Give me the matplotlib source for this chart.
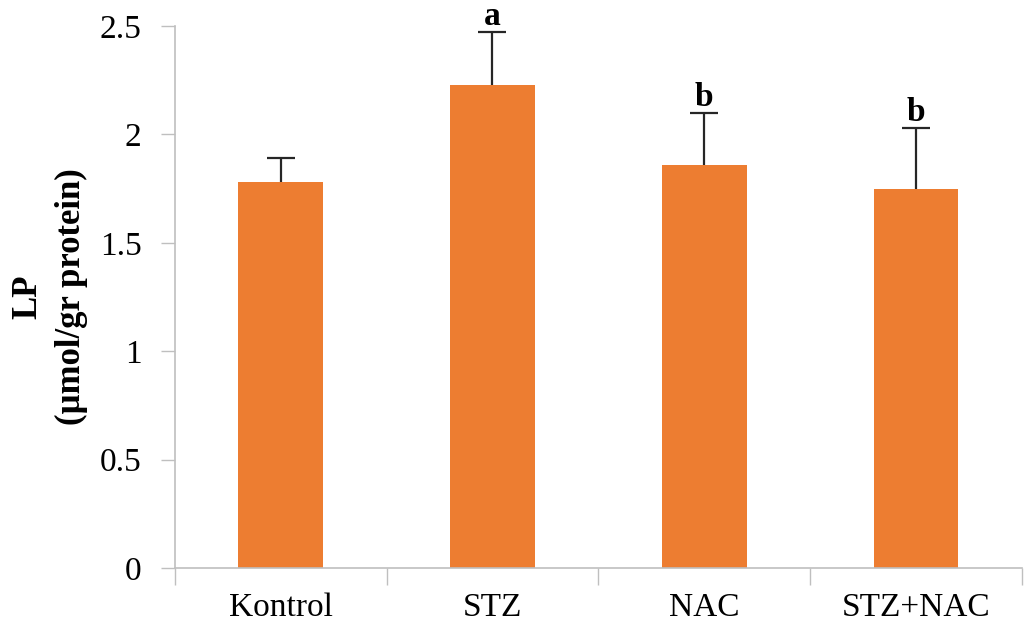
import matplotlib.pyplot as plt
import numpy as np

# Lipid peroxidation per group
groups = ["Kontrol", "STZ", "NAC", "STZ+NAC"]
lp_mean = [1.78, 2.23, 1.86, 1.75]
lp_sd = [0.11, 0.24, 0.24, 0.28]
sig_letters = ["", "a", "b", "b"]
yticks = [0, 0.5, 1, 1.5, 2, 2.5]
ytick_labels = ["0", "0.5", "1", "1.5", "2", "2.5"]

plt.rcParams["font.family"] = ["Liberation Serif", "DejaVu Serif"]

fig = plt.figure(figsize=(10.28, 6.32), dpi=100)
ax = fig.add_axes([0.170, 0.1013, 0.824, 0.8576])

x = np.arange(len(groups))
ax.bar(x, lp_mean, width=0.4, color="#ED7D31", zorder=2)
eb = ax.errorbar(x, lp_mean, yerr=[np.zeros(len(lp_sd)), lp_sd], fmt="none",
                 ecolor="#262626", elinewidth=1.6, capsize=10, capthick=1.6, zorder=3)
# only the upper whisker gets a cap
eb[1][0].set_visible(False)

for xi, m, s, lab in zip(x, lp_mean, lp_sd, sig_letters):
    if lab:
        ax.annotate(lab, (xi, m + s), xytext=(0, 0), textcoords="offset points",
                    ha="center", va="bottom", fontsize=24, fontweight="bold")

ax.set_xlim(-0.5, len(groups) - 0.5)
ax.set_ylim(0, 2.5)
ax.set_yticks(yticks)
ax.set_yticklabels(ytick_labels)
ax.set_xticks(x)
ax.set_xticklabels(groups)
ax.tick_params(axis="both", labelsize=24, colors="black")
ax.tick_params(axis="y", length=10, width=1, color="#BFBFBF", pad=14)
ax.tick_params(axis="x", length=0, pad=18)

# category boundary ticks on x axis
ax.set_xticks(np.arange(-0.5, len(groups)), minor=True)
ax.tick_params(axis="x", which="minor", length=12, width=1, color="#BFBFBF")

for side in ["top", "right"]:
    ax.spines[side].set_visible(False)
for side in ["left", "bottom"]:
    ax.spines[side].set_color("#BFBFBF")
    ax.spines[side].set_linewidth(1.2)

fig.text(0.027, 0.530, "LP", rotation=90, ha="center", va="center",
         fontsize=25, fontweight="bold")
fig.text(0.070, 0.530, "(µmol/gr protein)", rotation=90, ha="center", va="center",
         fontsize=25, fontweight="bold")

fig.savefig("out.png", dpi=100)
